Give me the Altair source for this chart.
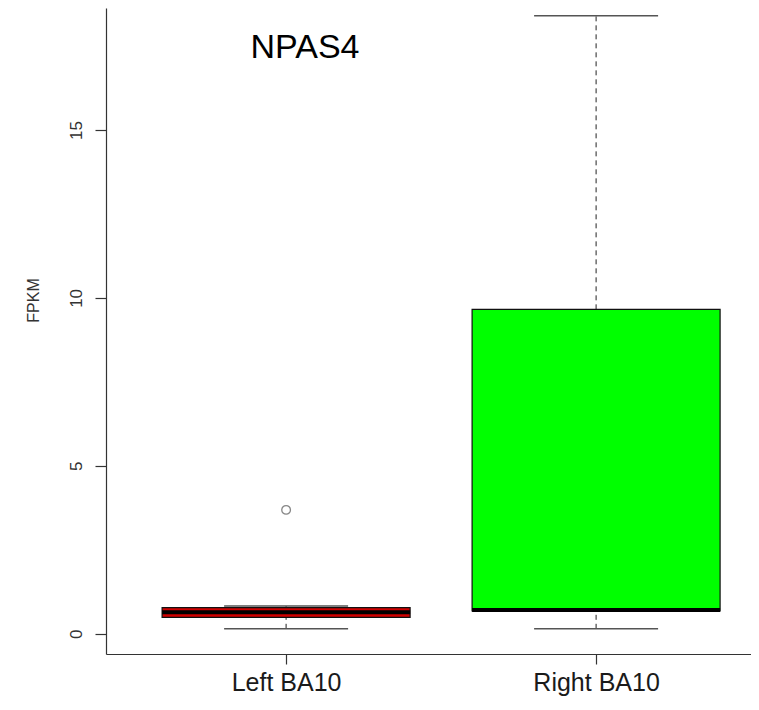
import altair as alt
import pandas as pd

groups = ["Left BA10", "Right BA10"]
positions = [1, 2]
lower_whisker = [0.15, 0.15]
q1 = [0.49, 0.68]
median = [0.64, 0.71]
q3 = [0.78, 9.66]
upper_whisker = [0.83, 18.40]
fills = ["#d00000", "#00ff00"]

outlier_group = ["Left BA10"]
outlier_pos = [1]
outlier_value = [3.69]

tick_values = [0, 5, 10, 15]

box_df = pd.DataFrame({
    "group": groups, "pos": positions, "lo": lower_whisker, "q1": q1,
    "med": median, "q3": q3, "hi": upper_whisker, "fill": fills,
})
out_df = pd.DataFrame({"group": outlier_group, "pos": outlier_pos, "value": outlier_value})

xscale = alt.Scale(domain=[0.419, 2.4997], nice=False, zero=False)
yscale = alt.Scale(domain=[-0.6, 18.63], nice=False, zero=False)

label_expr = "datum.value == 1 ? 'Left BA10' : (datum.value == 2 ? 'Right BA10' : '')"

x_axis = alt.Axis(values=positions, labelExpr=label_expr, title=None)
y_axis = alt.Axis(values=tick_values, title="FPKM")

base = alt.Chart(box_df).transform_calculate(
    xl="datum.pos - 0.4", xr="datum.pos + 0.4", cl="datum.pos - 0.2", cr="datum.pos + 0.2"
)

whisk_up = base.mark_rule(color="#222222", strokeWidth=1, strokeDash=[5, 4]).encode(
    x=alt.X("pos:Q", scale=xscale, axis=x_axis),
    y=alt.Y("q3:Q", scale=yscale, axis=y_axis),
    y2="hi:Q",
)
whisk_lo = base.mark_rule(color="#222222", strokeWidth=1, strokeDash=[5, 4]).encode(
    x=alt.X("pos:Q", scale=xscale), y=alt.Y("lo:Q", scale=yscale), y2="q1:Q",
)
cap_hi = base.mark_rule(color="#555555", strokeWidth=1.5).encode(
    x=alt.X("cl:Q", scale=xscale), x2="cr:Q", y=alt.Y("hi:Q", scale=yscale),
)
cap_lo = base.mark_rule(color="#555555", strokeWidth=1.5).encode(
    x=alt.X("cl:Q", scale=xscale), x2="cr:Q", y=alt.Y("lo:Q", scale=yscale),
)
boxes = base.mark_rect(stroke="#111111", strokeWidth=1.2).encode(
    x=alt.X("xl:Q", scale=xscale), x2="xr:Q",
    y=alt.Y("q1:Q", scale=yscale), y2="q3:Q",
    fill=alt.Fill("fill:N", scale=None),
)
medians = base.mark_rule(color="#000000", strokeWidth=4).encode(
    x=alt.X("xl:Q", scale=xscale), x2="xr:Q", y=alt.Y("med:Q", scale=yscale),
)
outliers = alt.Chart(out_df).mark_point(shape="circle", filled=False, size=75,
                                        color="#555555", strokeWidth=1.3).encode(
    x=alt.X("pos:Q", scale=xscale), y=alt.Y("value:Q", scale=yscale),
)
title_df = pd.DataFrame({"label": ["NPAS4"]})
title = alt.Chart(title_df).mark_text(fontSize=34, font="Liberation Sans", color="#000000",
                                      align="center", baseline="middle").encode(
    x=alt.value(199), y=alt.value(40), text="label:N",
)

chart = alt.layer(whisk_up, whisk_lo, cap_hi, cap_lo, boxes, medians, outliers, title).properties(
    width=645, height=646,
    autosize=alt.AutoSizeParams(type="none"),
    padding={"left": 98, "top": 0, "right": 0, "bottom": 46},
).configure_view(stroke=None).configure_axis(
    domainWidth=1.2, tickWidth=1.2, grid=False, domainColor="#333333", tickColor="#333333",
).configure_axisX(
    tickSize=10, labelFontSize=25, labelFont="Liberation Sans", labelColor="#1a1a1a",
    labelPadding=6, labelFlush=False,
).configure_axisY(
    tickSize=11, labelAngle=-90, labelAlign="center", labelBaseline="bottom",
    labelPadding=10, labelFontSize=17, labelFont="Liberation Sans", labelColor="#333333",
    titleFont="Liberation Sans", titleFontSize=16, titleFontWeight="normal",
    titleColor="#333333", titlePadding=26, titleY=292,
)

chart.save("out.html", embed_options={"renderer": "svg", "actions": False})
